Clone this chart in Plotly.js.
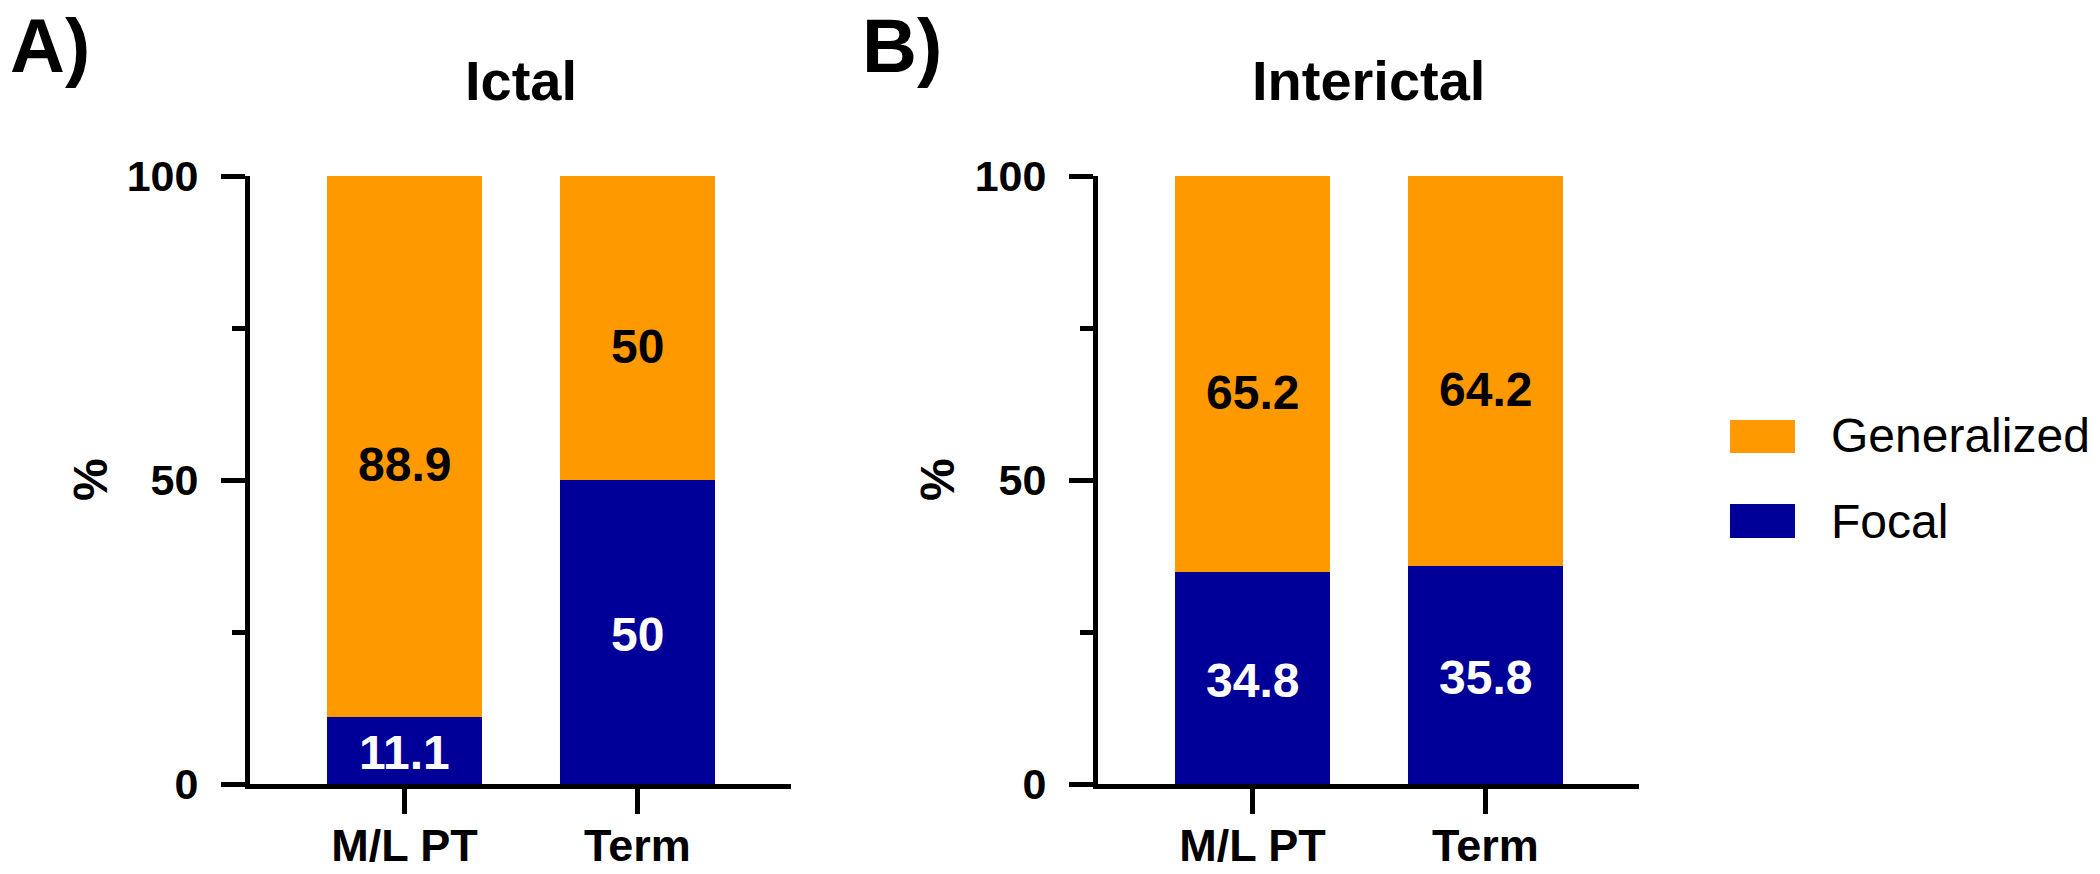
<!DOCTYPE html>
<html>
<head>
<meta charset="utf-8">
<script src="https://cdn.plot.ly/plotly-3.0.1.min.js"></script>
<style>
  html, body { margin: 0; padding: 0; background: #ffffff; }
  #chart { width: 2100px; height: 874px; }
</style>
</head>
<body>
<div id="chart"></div>
<script>
// ---- data ----
const categories = ['M/L PT', 'Term'];
const ictalFocal = [11.1, 50];
const ictalGeneralized = [88.9, 50];
const interictalFocal = [34.8, 35.8];
const interictalGeneralized = [65.2, 64.2];
const panelTitles = ['Ictal', 'Interictal'];
const panelLetters = ['A)', 'B)'];
const seriesNames = ['Generalized', 'Focal'];
const yTickVals = [0, 50, 100];

// ---- style ----
const ORANGE = '#FF9900';
const BLUE = '#000099';
const FONT = 'Liberation Sans, Arial, Helvetica, sans-serif';
const W = 2100, H = 874;
const px = v => v / W;
const py = v => (H - v) / H;

function barTrace(y, name, color, xa, ya) {
  return {
    type: 'bar', x: categories, y: y, name: name,
    marker: { color: color, line: { width: 0 } },
    width: 0.665, xaxis: xa, yaxis: ya, showlegend: false,
    hoverinfo: 'skip'
  };
}

const traces = [
  barTrace(ictalFocal, seriesNames[1], BLUE, 'x', 'y'),
  barTrace(ictalGeneralized, seriesNames[0], ORANGE, 'x', 'y'),
  barTrace(interictalFocal, seriesNames[1], BLUE, 'x2', 'y2'),
  barTrace(interictalGeneralized, seriesNames[0], ORANGE, 'x2', 'y2')
];

function xAxis(domain, anchor) {
  return {
    domain: domain, anchor: anchor, type: 'category',
    range: [-0.663, 1.659],
    showline: true, linewidth: 5, linecolor: '#000',
    ticks: 'outside', ticklen: 25, tickwidth: 5, tickcolor: '#000',
    showgrid: false, zeroline: false, automargin: false,
    ticklabelstandoff: -7,
    tickfont: { family: FONT, size: 45, color: '#000', weight: 'bold' },
    fixedrange: true
  };
}
function yAxis(anchor) {
  return {
    domain: [py(784), py(176)], anchor: anchor,
    range: [0, 100],
    tickmode: 'array', tickvals: yTickVals,
    showline: true, linewidth: 5, linecolor: '#000',
    ticks: 'outside', ticklen: 24, tickwidth: 5, tickcolor: '#000',
    minor: { dtick: 25, tick0: 0, ticks: 'outside', ticklen: 13, tickwidth: 5, tickcolor: '#000', showgrid: false },
    showgrid: false, zeroline: false, automargin: false,
    ticklabelstandoff: 14,
    tickfont: { family: FONT, size: 43, color: '#000', weight: 'bold' },
    fixedrange: true
  };
}

const annotations = [];
// panel letters
annotations.push({ text: panelLetters[0], xref: 'paper', yref: 'paper', x: px(8), y: py(45), xanchor: 'left', yanchor: 'middle', showarrow: false, font: { family: FONT, size: 76, color: '#000', weight: 'bold' } });
annotations.push({ text: panelLetters[1], xref: 'paper', yref: 'paper', x: px(860), y: py(45), xanchor: 'left', yanchor: 'middle', showarrow: false, font: { family: FONT, size: 76, color: '#000', weight: 'bold' } });
// titles
annotations.push({ text: panelTitles[0], xref: 'x domain', yref: 'paper', x: 0.5, y: py(81), xanchor: 'center', yanchor: 'middle', showarrow: false, font: { family: FONT, size: 56, color: '#000', weight: 'bold' } });
annotations.push({ text: panelTitles[1], xref: 'x2 domain', yref: 'paper', x: 0.5, y: py(81), xanchor: 'center', yanchor: 'middle', showarrow: false, font: { family: FONT, size: 56, color: '#000', weight: 'bold' } });
// y titles
annotations.push({ text: '%', xref: 'paper', yref: 'paper', x: px(90), y: py(480), xanchor: 'center', yanchor: 'middle', textangle: -90, showarrow: false, font: { family: FONT, size: 48, color: '#000', weight: 'bold' } });
annotations.push({ text: '%', xref: 'paper', yref: 'paper', x: px(937), y: py(480), xanchor: 'center', yanchor: 'middle', textangle: -90, showarrow: false, font: { family: FONT, size: 48, color: '#000', weight: 'bold' } });

// bar value labels
function addLabels(focal, gen, xr, yr) {
  categories.forEach((c, i) => {
    annotations.push({ text: String(focal[i]), xref: xr, yref: yr, x: c, y: focal[i] / 2, xanchor: 'center', yanchor: 'middle', yshift: -2, showarrow: false, font: { family: FONT, size: 48, color: '#fff', weight: 'bold' } });
    annotations.push({ text: String(gen[i]), xref: xr, yref: yr, x: c, y: focal[i] + gen[i] / 2, xanchor: 'center', yanchor: 'middle', yshift: -18, showarrow: false, font: { family: FONT, size: 48, color: '#000', weight: 'bold' } });
  });
}
addLabels(ictalFocal, ictalGeneralized, 'x', 'y');
addLabels(interictalFocal, interictalGeneralized, 'x2', 'y2');

// legend
const legendItems = [
  { name: seriesNames[0], color: ORANGE, top: 420, bottom: 453, textY: 436 },
  { name: seriesNames[1], color: BLUE, top: 504, bottom: 538, textY: 521 }
];
const shapes = [];
legendItems.forEach(it => {
  shapes.push({ type: 'rect', xref: 'paper', yref: 'paper', x0: px(1730), x1: px(1795), y0: py(it.bottom), y1: py(it.top), fillcolor: it.color, line: { width: 0 } });
  annotations.push({ text: it.name, xref: 'paper', yref: 'paper', x: px(1829), y: py(it.textY), xanchor: 'left', yanchor: 'middle', showarrow: false, font: { family: FONT, size: 48, color: '#000' } });
});

const layout = {
  width: W, height: H,
  margin: { l: 0, r: 0, t: 0, b: 0, pad: 0 },
  paper_bgcolor: '#fff', plot_bgcolor: '#fff',
  barmode: 'stack', showlegend: false,
  xaxis: xAxis([px(250), px(791)], 'y'),
  yaxis: yAxis('x'),
  xaxis2: xAxis([px(1098), px(1639)], 'y2'),
  yaxis2: yAxis('x2'),
  annotations: annotations,
  shapes: shapes,
  font: { family: FONT, color: '#000' }
};

Plotly.newPlot('chart', traces, layout, { displayModeBar: false, staticPlot: true });
</script>
</body>
</html>
